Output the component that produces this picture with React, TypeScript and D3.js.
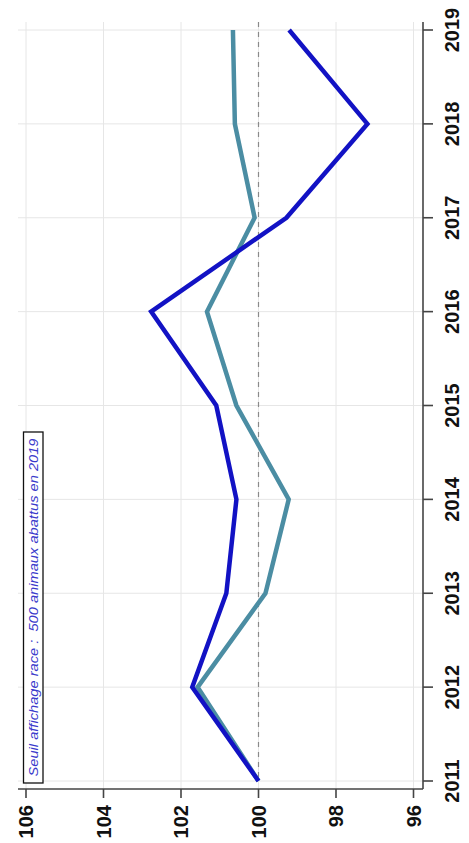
import React from "react";
import * as d3 from "d3";

const years = [2011, 2012, 2013, 2014, 2015, 2016, 2017, 2018, 2019];
const seriesBlue = [100, 101.71, 100.83, 100.57, 101.09, 102.77, 99.28, 97.19, 99.21];
const seriesTeal = [100, 101.57, 99.82, 99.22, 100.57, 101.33, 100.1, 100.61, 100.66];
const valueTicks = [106, 104, 102, 100, 98, 96];
const noteText = "Seuil affichage race :  500 animaux abattus en 2019";

const W = 469;
const H = 843;

export default function App() {
  // Rotated chart: years run vertically (right axis), values horizontally (bottom axis)
  const yearY = d3.scaleLinear().domain([2011, 2019]).range([781, 30]);
  const valX = d3.scaleLinear().domain([106, 96]).range([26, 413.5]);

  const plotTop = 22;
  const plotBottom = 789;
  const plotLeft = 18;
  const plotRight = 423;

  const line = d3
    .line<number>()
    .x((v) => valX(v))
    .y((_, i) => yearY(years[i]));

  const font = "'Liberation Sans', Arial, sans-serif";

  return (
    <svg
      width={W}
      height={H}
      style={{ position: "absolute", left: 0, top: 0, background: "#fff" }}
    >
      <rect x={0} y={0} width={W} height={H} fill="#fff" />
      {/* grid */}
      {valueTicks.map((t) => (
        <line
          key={"gv" + t}
          x1={valX(t)}
          x2={valX(t)}
          y1={plotTop}
          y2={plotBottom}
          stroke="#e6e6e6"
          strokeWidth={1}
        />
      ))}
      {years.map((y) => (
        <line
          key={"gh" + y}
          x1={plotLeft}
          x2={plotRight}
          y1={yearY(y)}
          y2={yearY(y)}
          stroke="#e6e6e6"
          strokeWidth={1}
        />
      ))}
      {/* reference line at 100 */}
      <line
        x1={valX(100)}
        x2={valX(100)}
        y1={plotTop}
        y2={yearY(2011)}
        stroke="#8a8a8a"
        strokeWidth={1.2}
        strokeDasharray="5,5"
      />
      {/* series */}
      <path
        d={line(seriesTeal) || ""}
        fill="none"
        stroke="#4b8da3"
        strokeWidth={4.5}
        strokeLinejoin="miter"
      />
      <path
        d={line(seriesBlue) || ""}
        fill="none"
        stroke="#1212c4"
        strokeWidth={4.5}
        strokeLinejoin="miter"
      />
      {/* annotation box */}
      <rect x={23.5} y={432} width={19.5} height={351} fill="#fff" stroke="#111" strokeWidth={1.3} />
      <text
        transform={`translate(37.5, ${(432 + 783) / 2}) rotate(-90)`}
        textAnchor="middle"
        fontFamily={font}
        fontStyle="italic"
        fontSize={12.5}
        fill="#3a3acb"
        textLength={338}
        lengthAdjust="spacingAndGlyphs"
        xmlSpace="preserve"
        style={{ whiteSpace: "pre" }}
      >
        {noteText}
      </text>
      {/* bottom value axis */}
      <line x1={plotLeft} x2={plotRight} y1={plotBottom} y2={plotBottom} stroke="#444" strokeWidth={1.6} />
      {valueTicks.map((t) => (
        <g key={"vt" + t}>
          <line x1={valX(t)} x2={valX(t)} y1={plotBottom} y2={plotBottom + 9} stroke="#444" strokeWidth={1.6} />
          <text
            transform={`translate(${valX(t) + 7}, ${plotBottom + 16}) rotate(-90)`}
            textAnchor="end"
            fontFamily={font}
            fontWeight="bold"
            fontSize={20}
            fill="#111"
          >
            {t}
          </text>
        </g>
      ))}
      {/* right year axis */}
      <line x1={plotRight} x2={plotRight} y1={plotTop} y2={plotBottom} stroke="#444" strokeWidth={1.6} />
      {years.map((y) => (
        <g key={"yt" + y}>
          <line x1={plotRight} x2={plotRight + 10} y1={yearY(y)} y2={yearY(y)} stroke="#444" strokeWidth={1.6} />
          <text
            transform={`translate(${plotRight + 36}, ${yearY(y)}) rotate(-90)`}
            textAnchor="middle"
            fontFamily={font}
            fontWeight="bold"
            fontSize={20}
            fill="#111"
          >
            {y}
          </text>
        </g>
      ))}
    </svg>
  );
}
